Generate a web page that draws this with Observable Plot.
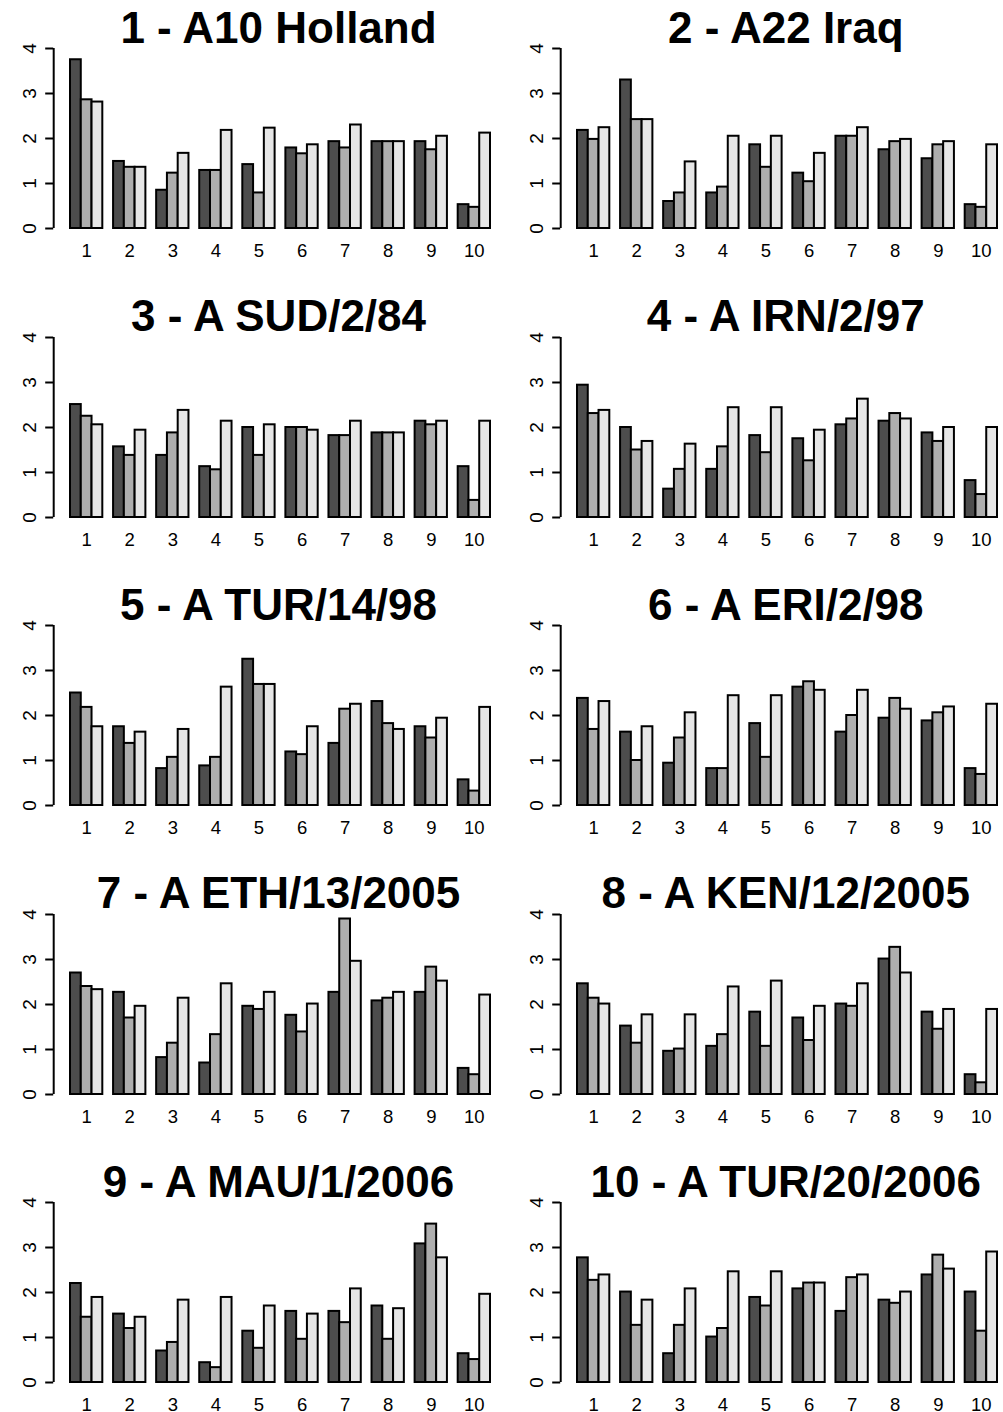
<!DOCTYPE html>
<html><head><meta charset="utf-8">
<script src="https://cdn.jsdelivr.net/npm/d3@7"></script>
<script src="https://cdn.jsdelivr.net/npm/@observablehq/plot@0.6"></script>
<style>
html,body{margin:0;padding:0;background:#fff;}
#root{position:relative;width:1003px;height:1412px;overflow:hidden;background:#fff;}
.panel{position:absolute;}
.panel svg{max-width:none !important;}
.title{position:absolute;font-family:"Liberation Sans",Arial,sans-serif;font-weight:bold;font-size:44px;line-height:44px;text-align:center;white-space:nowrap;color:#000;}
</style></head><body><div id="root"></div>
<script>
const groups = ["1","2","3","4","5","6","7","8","9","10"];
const series = ["s1","s2","s3"];
const titles = ["1 - A10 Holland","2 - A22 Iraq","3 - A SUD/2/84","4 - A IRN/2/97","5 - A TUR/14/98",
  "6 - A ERI/2/98","7 - A ETH/13/2005","8 - A KEN/12/2005","9 - A MAU/1/2006","10 - A TUR/20/2006"];
const yTicks = [0,1,2,3,4];

const v1 = [[3.75,1.49,0.85,1.29,1.42,1.79,1.93,1.93,1.93,0.53],
            [2.86,1.36,1.23,1.29,0.79,1.66,1.79,1.93,1.75,0.47],
            [2.81,1.36,1.67,2.18,2.23,1.86,2.30,1.93,2.05,2.12]];
const v2 = [[2.18,3.30,0.60,0.79,1.86,1.23,2.05,1.75,1.55,0.53],
            [1.98,2.42,0.79,0.92,1.36,1.04,2.05,1.93,1.86,0.47],
            [2.24,2.42,1.48,2.05,2.05,1.67,2.24,1.98,1.93,1.86]];
const v3 = [[2.51,1.57,1.38,1.13,2.00,2.00,1.82,1.88,2.14,1.13],
            [2.25,1.38,1.88,1.06,1.38,2.00,1.82,1.88,2.06,0.38],
            [2.06,1.94,2.38,2.14,2.06,1.94,2.14,1.88,2.14,2.14]];
const v4 = [[2.94,2.00,0.63,1.07,1.82,1.75,2.06,2.14,1.88,0.82],
            [2.31,1.50,1.07,1.57,1.44,1.26,2.19,2.31,1.69,0.51],
            [2.38,1.69,1.63,2.44,2.44,1.94,2.63,2.19,2.00,2.00]];
const v5 = [[2.50,1.75,0.82,0.88,3.25,1.19,1.38,2.31,1.75,0.57],
            [2.18,1.38,1.07,1.07,2.69,1.13,2.14,1.82,1.50,0.32],
            [1.75,1.63,1.69,2.63,2.69,1.75,2.25,1.69,1.94,2.18]];
const v6 = [[2.38,1.63,0.94,0.82,1.82,2.63,1.63,1.94,1.88,0.82],
            [1.69,1.00,1.50,0.82,1.07,2.75,2.00,2.38,2.06,0.69],
            [2.31,1.75,2.06,2.44,2.44,2.56,2.56,2.14,2.19,2.25]];
const v7 = [[2.70,2.27,0.82,0.70,1.96,1.76,2.27,2.08,2.27,0.58],
            [2.40,1.70,1.14,1.33,1.89,1.39,3.90,2.14,2.83,0.44],
            [2.33,1.96,2.14,2.46,2.27,2.01,2.96,2.27,2.52,2.21]];
const v8 = [[2.46,1.52,0.96,1.07,1.83,1.70,2.01,3.01,1.83,0.44],
            [2.14,1.14,1.01,1.33,1.07,1.20,1.96,3.27,1.45,0.26],
            [2.01,1.77,1.77,2.39,2.52,1.96,2.46,2.70,1.89,1.89]];
const v9 = [[2.20,1.52,0.70,0.44,1.14,1.58,1.58,1.70,3.08,0.64],
            [1.45,1.20,0.89,0.33,0.76,0.96,1.33,0.96,3.52,0.51],
            [1.89,1.45,1.83,1.89,1.70,1.52,2.08,1.64,2.77,1.96]];
const v10 = [[2.77,2.01,0.64,1.01,1.89,2.08,1.58,1.83,2.39,2.01],
             [2.27,1.27,1.27,1.20,1.70,2.21,2.33,1.76,2.83,1.14],
             [2.39,1.83,2.08,2.46,2.46,2.21,2.39,2.01,2.52,2.90]];
const panels = [v1,v2,v3,v4,v5,v6,v7,v8,v9,v10];

const root = document.getElementById("root");
const W = 508, H = 288.5, colStep = 507.3, rowStep = 288.5;
const xDomain = [-0.56, 41.56], yDomain = [-0.16, 4.16];
const font = '"Liberation Sans", Arial, sans-serif';

panels.forEach((vals, i) => {
  const col = i % 2, row = Math.floor(i / 2);
  const data = [];
  vals.forEach((arr, s) => arr.forEach((v, g) => data.push({
    group: groups[g], series: series[s], x1: 4 * g + 1 + s, x2: 4 * g + 2 + s, value: v
  })));
  const centers = groups.map((d, g) => 4 * g + 2.5);
  const chart = Plot.plot({
    width: W, height: H,
    marginLeft: 53.2, marginRight: W - 506.8, marginTop: 40.8, marginBottom: H - 235.2,
    x: {domain: xDomain, label: null},
    y: {domain: yDomain, label: null},
    color: {domain: series, range: ["#4D4D4D", "#AEAEAE", "#E6E6E6"]},
    style: {background: "transparent", fontFamily: font, fontSize: "18.5px", color: "#000", overflow: "visible", maxWidth: "none"},
    marks: [
      Plot.rectY(data, {x1: "x1", x2: "x2", y: "value", fill: "series", stroke: "#000", strokeWidth: 2}),
      Plot.ruleX([xDomain[0]], {x: d => d, y1: yTicks[0], y2: yTicks[yTicks.length - 1], stroke: "#000", strokeWidth: 2}),
      Plot.axisY({ticks: yTicks, tickFormat: d => String(d), tickSize: 8, tickRotate: -90, tickPadding: 10, strokeWidth: 2, fontSize: 19, label: null, stroke: "#000"}),
      Plot.axisX({ticks: centers, tickFormat: d => groups[Math.round((d - 2.5) / 4)], tickSize: 0, tickPadding: 8, fontSize: 18.5, label: null})
    ]
  });
  chart.style.maxWidth = "none";
  const wrap = document.createElement("div");
  wrap.className = "panel";
  wrap.style.left = (col * colStep) + "px";
  wrap.style.top = (row * rowStep) + "px";
  wrap.style.width = W + "px";
  wrap.style.height = H + "px";
  wrap.appendChild(chart);
  root.appendChild(wrap);

  const t = document.createElement("div");
  t.className = "title";
  const cx = col * colStep + (53.2 + 506.8) / 2 - 1.5;
  t.style.left = (cx - 300) + "px";
  t.style.width = "600px";
  t.style.top = (row * rowStep + 5.5) + "px";
  t.textContent = titles[i];
  root.appendChild(t);
});
</script>
</body></html>
